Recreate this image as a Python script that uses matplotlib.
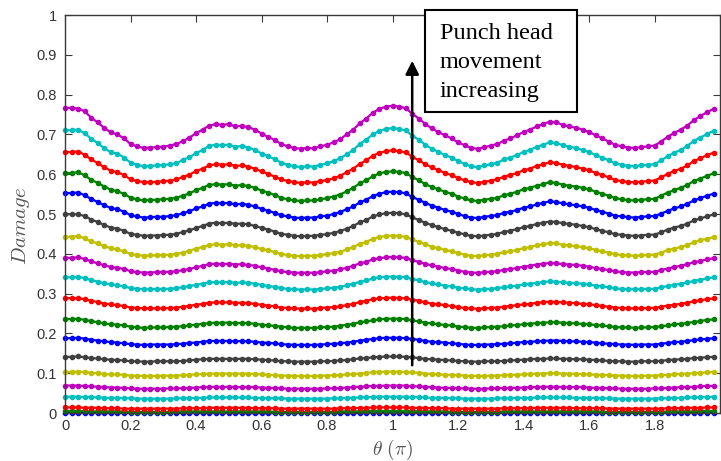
import matplotlib.pyplot as plt
import matplotlib.patches as mpatches
import numpy as np

plt.rcParams['mathtext.fontset'] = 'cm'
plt.rcParams['font.family'] = ['Liberation Sans', 'DejaVu Sans']

# sample angles, in units of pi
theta = np.linspace(0, 1.98, 100)

# damage along the punch edge, in thousandths, one list per punch head position
# (lowest movement first)
stage01 = [1, 1, 1, 1, 1, 0, 0, 0, 0, 0, 0, 0, 0, 0, 0, 0, 0, 0, 0, 0,
           0, 0, 1, 1, 1, 1, 0, 0, 0, 0, 0, 0, 0, 0, 0, 0, 0, 0, 0, 0,
           0, 0, 0, 0, 0, 0, 1, 1, 1, 1, 1, 1, 1, 0, 0, 0, 0, 0, 0, 0,
           0, 0, 0, 0, 0, 0, 0, 0, 0, 0, 0, 0, 1, 1, 1, 1, 0, 0, 0, 0,
           0, 0, 0, 0, 0, 0, 0, 0, 0, 0, 0, 0, 0, 0, 0, 1, 1, 1, 1, 1]
stage02 = [5, 5, 5, 5, 4, 4, 4, 4, 4, 4, 3, 3, 3, 3, 3, 3, 3, 4, 4, 4,
           4, 4, 4, 4, 4, 4, 4, 4, 4, 4, 4, 4, 3, 3, 3, 3, 3, 3, 3, 3,
           3, 3, 4, 4, 4, 4, 5, 5, 5, 5, 5, 5, 5, 5, 4, 4, 4, 4, 4, 3,
           3, 3, 3, 3, 3, 3, 3, 4, 4, 4, 4, 4, 4, 4, 4, 4, 4, 4, 4, 4,
           4, 4, 3, 3, 3, 3, 3, 3, 3, 3, 3, 3, 4, 4, 4, 4, 4, 5, 5, 5]
stage03 = [14, 14, 14, 13, 13, 13, 12, 12, 12, 11, 11, 11, 11, 11, 11, 11, 11, 11, 12, 12,
           12, 12, 13, 13, 13, 13, 13, 13, 13, 12, 12, 12, 12, 11, 11, 11, 11, 11, 11, 11,
           11, 11, 12, 12, 12, 13, 13, 14, 14, 14, 14, 14, 14, 13, 13, 13, 12, 12, 12, 11,
           11, 11, 11, 11, 11, 11, 11, 12, 12, 12, 12, 12, 13, 13, 13, 13, 13, 13, 12, 12,
           12, 12, 12, 11, 11, 11, 11, 11, 11, 11, 11, 11, 12, 12, 12, 13, 13, 13, 14, 14]
stage04 = [41, 41, 41, 40, 40, 39, 38, 38, 38, 37, 37, 36, 36, 36, 36, 36, 36, 37, 37, 37,
           38, 38, 39, 39, 39, 39, 39, 39, 39, 38, 38, 37, 37, 37, 36, 36, 36, 36, 36, 36,
           36, 37, 37, 38, 38, 39, 40, 40, 41, 41, 41, 41, 41, 40, 40, 39, 38, 38, 38, 37,
           37, 36, 36, 36, 36, 36, 37, 37, 37, 38, 38, 38, 39, 39, 39, 39, 39, 39, 38, 38,
           38, 38, 37, 37, 36, 36, 36, 36, 36, 36, 36, 37, 37, 38, 38, 39, 39, 40, 40, 41]
stage05 = [69, 69, 69, 68, 67, 66, 65, 64, 64, 63, 62, 61, 61, 61, 61, 61, 62, 62, 62, 63,
           64, 65, 65, 66, 65, 66, 65, 65, 65, 65, 64, 63, 63, 62, 61, 61, 61, 61, 61, 61,
           62, 62, 63, 64, 65, 66, 67, 68, 68, 69, 69, 69, 69, 67, 67, 66, 65, 64, 63, 63,
           62, 62, 61, 61, 61, 62, 62, 63, 63, 63, 64, 65, 65, 66, 66, 66, 65, 65, 65, 65,
           64, 63, 63, 62, 62, 61, 61, 61, 61, 61, 62, 62, 63, 64, 65, 65, 66, 67, 68, 68]
stage06 = [103, 103, 104, 103, 101, 100, 98, 97, 97, 96, 94, 94, 93, 93, 93, 94, 94, 94, 95, 96,
           97, 98, 99, 99, 99, 99, 99, 99, 99, 98, 97, 96, 95, 94, 94, 93, 93, 93, 93, 94,
           94, 95, 95, 97, 98, 99, 101, 102, 103, 104, 104, 104, 103, 102, 101, 99, 98, 97, 96, 96,
           95, 94, 93, 93, 93, 94, 94, 95, 96, 96, 97, 98, 99, 99, 100, 100, 99, 99, 98, 98,
           97, 96, 96, 95, 94, 94, 93, 93, 93, 94, 94, 95, 96, 97, 98, 99, 100, 101, 102, 103]
stage07 = [141, 141, 142, 140, 138, 137, 135, 134, 133, 132, 130, 130, 129, 129, 130, 130, 130, 130, 131, 132,
           134, 135, 136, 136, 136, 136, 136, 136, 136, 135, 134, 133, 132, 130, 130, 129, 129, 129, 129, 130,
           130, 131, 132, 133, 135, 137, 138, 140, 141, 142, 142, 142, 141, 140, 138, 136, 135, 134, 133, 132,
           131, 130, 129, 129, 130, 130, 130, 131, 132, 133, 134, 135, 136, 136, 137, 137, 136, 136, 135, 135,
           134, 133, 132, 131, 130, 130, 129, 129, 130, 130, 130, 131, 133, 134, 135, 136, 138, 139, 140, 141]
stage08 = [188, 188, 189, 187, 184, 182, 180, 178, 177, 175, 173, 172, 171, 172, 172, 172, 172, 173, 174, 176,
           177, 179, 181, 181, 181, 181, 180, 181, 180, 179, 177, 176, 175, 173, 172, 171, 171, 171, 171, 172,
           173, 174, 175, 177, 179, 182, 184, 186, 188, 189, 189, 189, 188, 186, 184, 181, 179, 178, 177, 175,
           174, 172, 171, 171, 172, 172, 173, 174, 175, 177, 178, 179, 180, 181, 182, 182, 181, 180, 180, 179,
           178, 177, 175, 174, 173, 172, 172, 171, 172, 172, 172, 174, 176, 178, 179, 181, 183, 185, 186, 188]
stage09 = [236, 236, 237, 234, 231, 228, 225, 223, 222, 220, 217, 215, 214, 215, 215, 215, 216, 217, 218, 220,
           222, 224, 226, 227, 227, 227, 226, 226, 226, 224, 222, 220, 219, 217, 215, 214, 214, 214, 214, 215,
           216, 217, 219, 222, 224, 228, 230, 233, 235, 237, 237, 237, 236, 233, 230, 227, 225, 223, 221, 220,
           217, 216, 214, 214, 215, 216, 217, 218, 220, 221, 223, 224, 226, 227, 228, 228, 227, 226, 225, 224,
           223, 221, 220, 218, 216, 215, 215, 214, 215, 215, 216, 218, 220, 223, 224, 226, 229, 231, 234, 235]
stage10 = [288, 289, 288, 286, 282, 279, 275, 273, 271, 269, 265, 264, 263, 263, 263, 263, 264, 265, 267, 269,
           272, 274, 277, 278, 278, 278, 277, 277, 276, 274, 272, 270, 268, 265, 264, 263, 262, 263, 262, 264,
           265, 266, 268, 271, 274, 279, 282, 286, 288, 289, 290, 289, 288, 285, 282, 278, 275, 273, 271, 269,
           266, 264, 263, 262, 263, 264, 265, 267, 269, 271, 273, 274, 277, 278, 280, 279, 278, 277, 276, 274,
           273, 271, 269, 267, 265, 264, 263, 263, 263, 264, 264, 267, 270, 272, 274, 277, 281, 283, 286, 288]
stage11 = [341, 341, 342, 339, 334, 330, 326, 323, 321, 318, 314, 312, 311, 311, 311, 312, 312, 314, 316, 319,
           322, 325, 328, 329, 328, 329, 327, 328, 327, 325, 322, 319, 317, 314, 312, 311, 310, 311, 310, 312,
           313, 315, 317, 321, 325, 329, 333, 338, 341, 342, 343, 342, 341, 337, 333, 329, 326, 323, 320, 318,
           315, 313, 311, 310, 311, 312, 314, 316, 318, 320, 323, 325, 327, 329, 331, 330, 328, 327, 326, 325,
           323, 320, 318, 316, 313, 312, 311, 311, 311, 312, 312, 316, 319, 322, 325, 328, 332, 335, 338, 341]
stage12 = [390, 390, 391, 387, 381, 376, 371, 367, 365, 362, 356, 354, 353, 353, 354, 354, 355, 356, 359, 362,
           366, 370, 374, 375, 374, 375, 373, 374, 372, 370, 366, 363, 360, 356, 354, 353, 352, 353, 352, 354,
           356, 358, 361, 365, 370, 376, 380, 386, 389, 391, 392, 391, 390, 384, 380, 375, 371, 368, 364, 362,
           358, 355, 353, 352, 354, 355, 356, 360, 362, 364, 368, 370, 373, 375, 377, 376, 374, 373, 372, 370,
           368, 364, 362, 359, 356, 354, 353, 353, 354, 354, 355, 359, 363, 367, 370, 374, 379, 382, 386, 389]
stage13 = [443, 443, 444, 439, 431, 426, 419, 414, 411, 406, 400, 397, 395, 396, 396, 397, 398, 400, 403, 408,
           413, 417, 422, 424, 423, 424, 421, 422, 420, 417, 412, 409, 404, 400, 397, 395, 394, 395, 395, 397,
           399, 402, 405, 411, 417, 425, 430, 438, 442, 445, 446, 445, 443, 436, 430, 424, 418, 414, 410, 406,
           402, 398, 395, 394, 396, 398, 400, 404, 406, 410, 414, 417, 421, 424, 427, 426, 423, 421, 419, 417,
           414, 410, 406, 403, 399, 397, 396, 395, 396, 397, 398, 403, 409, 413, 417, 422, 429, 434, 438, 442]
stage14 = [499, 500, 499, 495, 486, 480, 472, 466, 463, 458, 450, 448, 445, 446, 446, 447, 448, 450, 455, 459,
           465, 470, 476, 478, 477, 478, 475, 476, 474, 470, 465, 461, 456, 450, 448, 445, 444, 445, 445, 448,
           449, 453, 457, 463, 470, 479, 485, 494, 499, 502, 503, 502, 499, 492, 485, 478, 472, 467, 462, 458,
           453, 449, 445, 444, 446, 448, 450, 455, 458, 462, 467, 470, 475, 478, 481, 480, 477, 475, 473, 470,
           467, 462, 458, 454, 449, 448, 446, 445, 446, 448, 448, 454, 461, 466, 470, 476, 484, 489, 494, 499]
stage15 = [552, 553, 554, 547, 538, 530, 522, 515, 512, 506, 497, 494, 491, 492, 493, 493, 495, 497, 502, 507,
           514, 519, 526, 528, 527, 528, 524, 526, 523, 519, 513, 508, 503, 497, 494, 491, 490, 491, 491, 494,
           496, 500, 505, 512, 519, 529, 536, 545, 551, 555, 556, 555, 552, 543, 536, 528, 521, 516, 510, 506,
           500, 495, 491, 490, 493, 495, 497, 503, 506, 510, 516, 519, 524, 528, 532, 530, 527, 524, 522, 519,
           516, 510, 506, 501, 496, 494, 492, 491, 493, 494, 495, 501, 508, 514, 519, 526, 534, 540, 546, 551]
stage16 = [603, 603, 605, 597, 586, 578, 569, 561, 557, 551, 541, 537, 534, 535, 536, 537, 538, 541, 546, 552,
           560, 566, 573, 575, 574, 575, 571, 573, 570, 566, 559, 554, 548, 541, 537, 534, 533, 534, 534, 537,
           540, 544, 549, 557, 566, 577, 585, 595, 602, 606, 607, 606, 603, 593, 585, 575, 568, 562, 556, 551,
           544, 539, 534, 533, 536, 538, 541, 547, 551, 556, 562, 566, 571, 575, 580, 578, 574, 571, 569, 566,
           562, 556, 551, 546, 540, 537, 535, 534, 536, 537, 538, 546, 554, 560, 566, 573, 583, 589, 596, 602]
stage17 = [655, 656, 657, 649, 637, 628, 617, 609, 605, 598, 587, 583, 580, 580, 581, 582, 584, 587, 593, 599,
           608, 614, 622, 625, 624, 625, 621, 622, 619, 614, 607, 601, 594, 587, 583, 580, 578, 580, 579, 583,
           585, 590, 596, 605, 614, 626, 635, 647, 654, 658, 660, 658, 655, 644, 635, 625, 617, 610, 603, 598,
           590, 585, 580, 578, 581, 584, 587, 594, 598, 603, 610, 614, 621, 625, 630, 628, 624, 621, 618, 614,
           610, 603, 598, 592, 585, 583, 580, 580, 581, 583, 584, 592, 601, 608, 614, 622, 633, 640, 648, 654]
stage18 = [710, 711, 712, 703, 689, 678, 665, 655, 652, 642, 629, 624, 620, 621, 622, 623, 625, 627, 636, 643,
           653, 661, 671, 674, 673, 674, 669, 671, 667, 661, 652, 645, 638, 629, 624, 620, 618, 620, 619, 624,
           627, 633, 640, 650, 661, 676, 687, 700, 709, 714, 716, 714, 710, 697, 687, 674, 664, 656, 648, 642,
           633, 626, 620, 618, 622, 625, 629, 637, 642, 648, 656, 661, 669, 674, 680, 678, 673, 669, 666, 661,
           656, 648, 642, 635, 627, 624, 621, 620, 622, 624, 625, 635, 645, 654, 661, 671, 684, 692, 701, 709]
stage19 = [766, 767, 765, 758, 742, 730, 716, 705, 700, 690, 676, 670, 666, 667, 668, 669, 672, 676, 683, 692,
           703, 712, 722, 726, 724, 726, 720, 722, 718, 712, 702, 694, 686, 676, 670, 666, 664, 666, 665, 670,
           674, 680, 688, 700, 712, 728, 740, 755, 764, 770, 772, 770, 766, 752, 740, 726, 715, 706, 698, 690,
           680, 673, 666, 664, 668, 672, 676, 684, 690, 698, 706, 712, 720, 726, 732, 730, 724, 720, 717, 712,
           706, 698, 690, 682, 674, 670, 667, 666, 668, 670, 672, 682, 694, 704, 712, 722, 736, 746, 756, 764]

stages = [stage01, stage02, stage03, stage04, stage05, stage06, stage07,
          stage08, stage09, stage10, stage11, stage12, stage13, stage14,
          stage15, stage16, stage17, stage18, stage19]

# classic colour order: b g r c m y k
line_colors = [(0, 0, 1), (0, 0.5, 0), (1, 0, 0), (0, 0.75, 0.75),
               (0.75, 0, 0.75), (0.75, 0.75, 0), (0.25, 0.25, 0.25)]

fig = plt.figure(figsize=(7.21, 4.61), dpi=100)
ax = fig.add_axes([0.0902, 0.1041, 0.9085, 0.8633])

for i, s in enumerate(stages):
    ax.plot(theta, np.array(s) / 1000.0, '.-', color=line_colors[i % 7],
            markersize=6, linewidth=1.6, clip_on=False, zorder=2)

ax.set_xlim(0, 2)
ax.set_ylim(0, 1)
ax.set_xticks(np.arange(0, 2.01, 0.2))
ax.set_xticklabels(['0', '0.2', '0.4', '0.6', '0.8', '1', '1.2', '1.4', '1.6', '1.8', ''])
ax.set_yticks(np.arange(0, 1.01, 0.1))
ax.set_yticklabels(['0', '0.1', '0.2', '0.3', '0.4', '0.5', '0.6', '0.7', '0.8', '0.9', '1'])
ax.tick_params(direction='in', length=5, width=0.8, top=True, right=True,
               color='#3a3a3a', labelcolor='#333333', labelsize=10.5)
ax.tick_params(axis='y', pad=6)
ax.tick_params(axis='x', pad=4)
for sp in ax.spines.values():
    sp.set_color('#3a3a3a')
    sp.set_linewidth(1.0)

ax.set_xlabel(r'$\theta\ (\pi)$', fontsize=14, color='#555555', labelpad=4)
ax.set_ylabel(r'$Damage$', fontsize=15, color='#555555')
ax.yaxis.set_label_coords(-0.050, 0.47)

ax.annotate('', xy=(1.06, 0.885), xytext=(1.06, 0.12),
            arrowprops=dict(arrowstyle='-|>', color='black', lw=1.8,
                            mutation_scale=20, shrinkA=0, shrinkB=0),
            zorder=5)

box = mpatches.Rectangle((425 / 721, 1 - 112 / 461), 152 / 721, 102 / 461,
                         transform=fig.transFigure, facecolor='white',
                         edgecolor='black', linewidth=1.5, zorder=10)
fig.patches.append(box)
fig.text(440 / 721, 1 - 23 / 461, 'Punch head\nmovement\nincreasing',
         family='Liberation Serif', fontsize=17.5, va='top', ha='left',
         linespacing=1.5, zorder=11)

fig.savefig('out.png', dpi=100)
